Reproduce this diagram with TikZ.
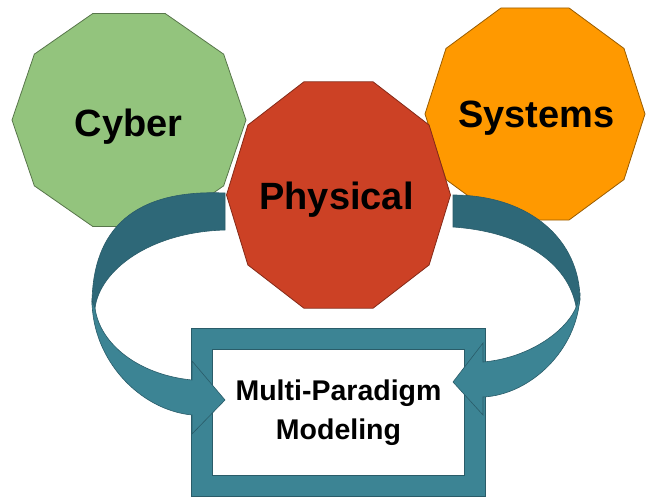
\documentclass[tikz,border=0pt]{standalone}
\usepackage{fontspec}
\setmainfont{Liberation Sans}

\definecolor{cybergreen}{HTML}{93C47D}
\definecolor{physred}{HTML}{CC4125}
\definecolor{sysorange}{HTML}{FF9900}
\definecolor{bandback}{HTML}{2E6878}
\definecolor{bandfront}{HTML}{3C8494}
\definecolor{bandedge}{HTML}{2A5C69}
\colorlet{cyberedge}{cybergreen!60!black}
\colorlet{physedge}{physred!65!black}
\colorlet{sysedge}{sysorange!60!black}

% decagon: center, x radius, y radius, style
\newcommand{\decagon}[4]{%
  \draw[#4] (#1) +(0:#2 and #3)
    \foreach \a in {36,72,...,324} { -- +(\a:#2 and #3) } -- cycle;}

\tikzset{
  lbl/.style={font=\bfseries\fontsize{38}{40}\selectfont, inner sep=0pt, anchor=base},
  back/.style={fill=bandback, draw=bandedge, line width=0.6pt},
  front/.style={fill=bandfront, draw=bandedge, line width=0.6pt},
}

\begin{document}
\begin{tikzpicture}[x=1pt, y=-1pt]
    \useasboundingbox (0,0) rectangle (646,500);
    \coordinate (cyber) at (129,120);
    \coordinate (systems) at (535,114);
    \coordinate (physical) at (338.5,195);
    % Cyber, Systems
    \decagon{cyber}{117pt}{112pt}{fill=cybergreen, draw=cyberedge, line width=0.8pt}
    \decagon{systems}{110pt}{111.5pt}{fill=sysorange, draw=sysedge, line width=0.8pt}
    % back of the ribbons
    \path[back] (225,193) .. controls (135,189) and (92,228) .. (92,305)
      -- (95,308) .. controls (100,270) and (150,232) .. (225,230) -- cycle;
    \path[back] (453,195) .. controls (530,195) and (580,240) .. (580,300)
      -- (577,313) .. controls (572,265) and (525,232) .. (453,227) -- cycle;
    % Physical
    \decagon{physical}{112pt}{119pt}{fill=physred, draw=physedge, line width=0.8pt}
    % box
    \node (mpm) [draw=bandedge, double=bandfront, double distance=20pt, line width=0.8pt,
      fill=white, minimum width=273pt, minimum height=147pt, inner sep=0pt,
      align=center, font=\bfseries\fontsize{28.5}{39}\selectfont]
      at (338.5,412.5) {Multi-Paradigm\\Modeling};
    % front of the ribbons
    \path[front] (92,300) .. controls (92,360) and (140,410) .. (192,415)
      -- (192,434) -- (225,400) -- (192,361) -- (192,380)
      .. controls (140,375) and (100,345) .. (95,308) -- cycle;
    \path[front] (580,295) .. controls (578,350) and (530,395) .. (483,397)
      -- (483,415) -- (453,382) -- (483,343) -- (483,362)
      .. controls (530,358) and (568,330) .. (577,305) -- cycle;
    % labels
    \node (cyberlbl) [lbl] at (128.5,137) {Cyber};
    \node (physlbl) [lbl] at (336.5,210) {Physical};
    \node (syslbl) [lbl] at (536.5,128) {Systems};
\end{tikzpicture}
\end{document}
